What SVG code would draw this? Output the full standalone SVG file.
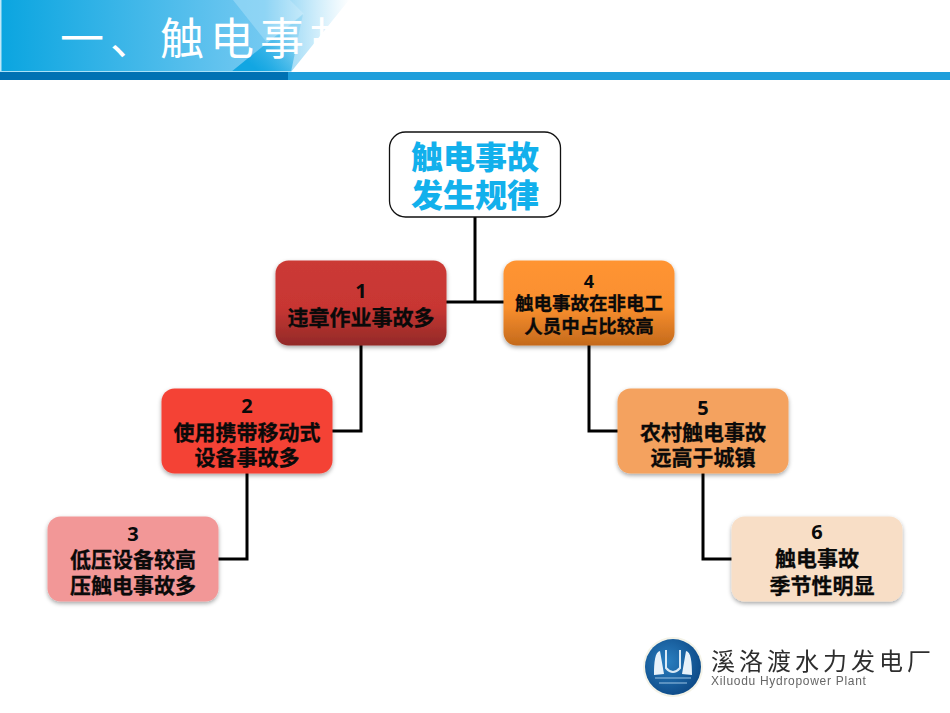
<svg xmlns="http://www.w3.org/2000/svg" width="950" height="713" viewBox="0 0 950 713">
<style>
text{font-family:"Noto Sans CJK SC","Noto Sans",sans-serif;text-anchor:middle}
.t{font-size:21px;font-weight:700;fill:#0a0a0a;stroke:#0a0a0a;stroke-width:.3px}
.m{font-size:18.500px;font-weight:700;fill:#0a0a0a;stroke:#0a0a0a;stroke-width:.3px}
.n{font-size:20px;font-weight:700;fill:#0a0a0a;font-family:"Open Sans","Noto Sans",sans-serif}
.rt{font-size:32px;font-weight:900;fill:#12b0ec}
.box{filter:url(#sh)}
#connectors path{fill:none;stroke:#000;stroke-width:3}
</style>
<defs>
<linearGradient id="hd" x1="0" x2="1" y1="0" y2="0"><stop offset="0" stop-color="#0aa5e0"/><stop offset=".7" stop-color="#6cc6f0"/><stop offset="1" stop-color="#8fd6f6"/></linearGradient>
<linearGradient id="fd" x1="0" x2="1" y1="0" y2="0"><stop offset="0" stop-color="#fff" stop-opacity="0"/><stop offset="1" stop-color="#fff"/></linearGradient>
<linearGradient id="tr" x1="0" x2="1" y1="1" y2="0"><stop offset=".2" stop-color="#12a6e2"/><stop offset=".75" stop-color="#12a6e2" stop-opacity=".15"/></linearGradient>
<linearGradient id="r1" x1="0" x2="0" y1="0" y2="1"><stop offset="0" stop-color="#cb3a36"/><stop offset=".55" stop-color="#c83633"/><stop offset="1" stop-color="#922a28"/></linearGradient>
<linearGradient id="o1" x1="0" x2="0" y1="0" y2="1"><stop offset="0" stop-color="#ff9433"/><stop offset=".55" stop-color="#f98f2e"/><stop offset="1" stop-color="#c46a1c"/></linearGradient>
<filter id="sh" x="-10%" y="-10%" width="120%" height="130%"><feDropShadow dx="0" dy="2" stdDeviation="2" flood-color="#000" flood-opacity=".35"/></filter>
<radialGradient id="lg" cx=".4" cy=".4" r=".7"><stop offset="0" stop-color="#2a7fc0"/><stop offset="1" stop-color="#0b4582"/></radialGradient>
<filter id="bl" x="-10%" y="-10%" width="120%" height="120%"><feGaussianBlur stdDeviation=".4"/></filter>
</defs>
<g id="header">
<rect x="0" y="0" width="350" height="72" fill="url(#hd)"/>
<rect x="0" y="0" width="1.500" height="72" fill="#bfe8f8"/>
<polygon points="233,0 290,0 304,14 268,44" fill="#a5def8" opacity=".55"/>
<rect x="265" y="0" width="85" height="72" fill="url(#fd)"/>
<polygon points="231,72 303,14 291,72" fill="url(#tr)"/>
<text x="60" y="55" style="text-anchor:start;font-size:44px;letter-spacing:6px;font-weight:400" fill="#fff">一、触电事故</text>
<polygon points="291,72 349,0 950,0 950,72" fill="#fff"/>
<rect x="0" y="71" width="291" height="1" fill="#a9e0f6"/>
<rect x="0" y="72" width="288" height="8" fill="#0071b3"/>
<rect x="288" y="72" width="662" height="8" fill="#1f9edb"/>
</g>
<g id="connectors">
<path d="M475 217V302"/>
<path d="M446 302H504"/>
<path d="M361 345V431H332"/>
<path d="M247 473V559H218"/>
<path d="M589 345V431H618"/>
<path d="M703 473V559H732"/>
</g>
<g id="root"><rect x="389.500" y="132" width="171" height="85" rx="16" fill="#fff" stroke="#111" stroke-width="1.300"/>
<text class="rt" x="475" y="169">触电事故</text>
<text class="rt" x="475" y="207">发生规律</text></g>
<g id="node1"><rect class="box" x="275.500" y="260.500" width="171" height="85" rx="13" fill="url(#r1)"/>
<text class="n" x="361" y="298">1</text><text class="t" x="361" y="325">违章作业事故多</text></g>
<g id="node2"><rect class="box" x="161.500" y="388.500" width="171" height="85" rx="13" fill="#f44336"/>
<text class="n" x="247" y="413">2</text><text class="t" x="247" y="440">使用携带移动式</text><text class="t" x="247" y="465">设备事故多</text></g>
<g id="node3"><rect class="box" x="47.500" y="516.500" width="171" height="85" rx="13" fill="#f29797"/>
<text class="n" x="133" y="541">3</text><text class="t" x="133" y="567">低压设备较高</text><text class="t" x="133" y="593">压触电事故多</text></g>
<g id="node4"><rect class="box" x="503.500" y="260.500" width="171" height="85" rx="13" fill="url(#o1)"/>
<text class="n" x="589" y="288" style="font-size:18px">4</text><text class="m" x="589" y="310">触电事故在非电工</text><text class="m" x="589" y="333">人员中占比较高</text></g>
<g id="node5"><rect class="box" x="617.500" y="388.500" width="171" height="85" rx="13" fill="#f4a25e"/>
<text class="n" x="703" y="415">5</text><text class="t" x="703" y="440">农村触电事故</text><text class="t" x="703" y="465">远高于城镇</text></g>
<g id="node6"><rect class="box" x="731.500" y="516.500" width="171" height="85" rx="13" fill="#f8dec6"/>
<text class="n" x="817" y="539">6</text><text class="t" x="817" y="566">触电事故</text><text class="t" x="822" y="593">季节性明显</text></g>
<g id="logo">
<circle cx="673" cy="667" r="30" fill="#f4f3e8"/>
<circle cx="673" cy="667" r="28" fill="url(#lg)"/>
<path d="M654 675C654 662 655 652 660 651L664 674ZM692 675C692 662 691 652 686 651L682 674Z" fill="#e8f2fa"/>
<path d="M666 650V668Q673 676 680 668V650" fill="none" stroke="#dbeaf6" stroke-width="2"/>
<path d="M655 678H691M659 683H687" stroke="#9cc4e4" stroke-width="1"/>
<g filter="url(#bl)">
<text x="711" y="670" style="text-anchor:start;font-size:24px;letter-spacing:4px" fill="#2e2e2e">溪洛渡水力发电厂</text>
<text x="711" y="685" style="text-anchor:start;font-size:12px;letter-spacing:.7px;font-family:'Liberation Sans',sans-serif" fill="#666">Xiluodu  Hydropower  Plant</text>
</g>
</g>
</svg>
